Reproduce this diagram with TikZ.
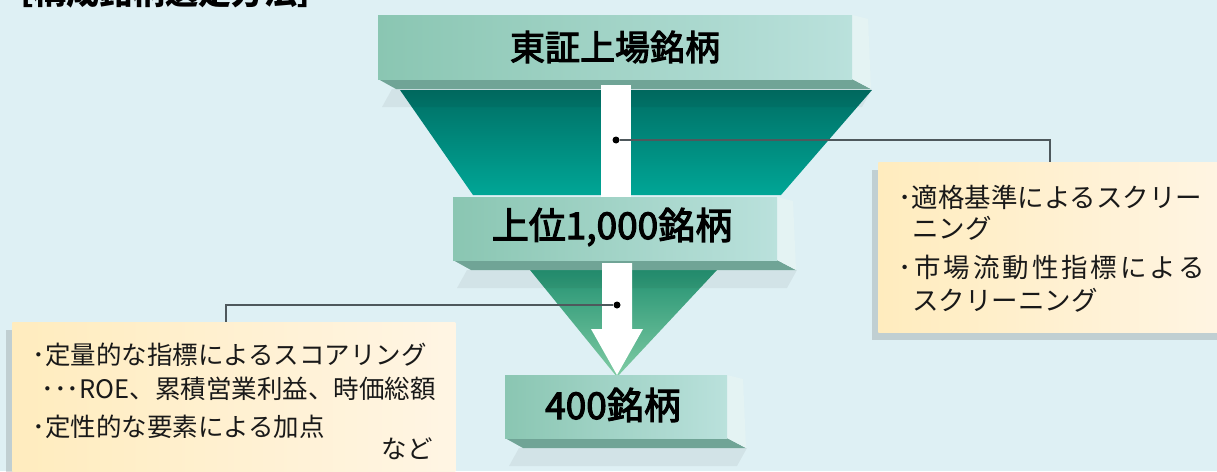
\documentclass[tikz,border=0pt]{standalone}
\usepackage{fontspec}
\setmainfont{Noto Sans CJK JP}
\newfontfamily\midfont[FakeBold=3]{Noto Sans CJK JP}
\usepackage{tikz}
\usetikzlibrary{positioning,shadows}

\definecolor{bgblue}{RGB}{222,240,244}
\definecolor{barL}{RGB}{138,198,178}
\definecolor{barR}{RGB}{186,225,220}
\definecolor{barbot}{RGB}{112,164,150}
\definecolor{barside}{RGB}{228,243,243}
\definecolor{tealtop}{RGB}{0,110,100}
\definecolor{tealbot}{RGB}{0,166,150}
\definecolor{greentop}{RGB}{36,146,114}
\definecolor{greenbot}{RGB}{128,204,164}
\definecolor{noteL}{RGB}{255,236,190}
\definecolor{noteR}{RGB}{255,245,228}
\definecolor{wire}{RGB}{78,88,92}

\begin{document}
\begin{tikzpicture}[x=1pt, y=-1pt, semithick]
\tikzstyle{bartext}=[inner sep=0, text=black, font=\midfont\fontsize{37}{37}\selectfont]
\tikzstyle{note}=[anchor=north west, inner sep=0, left color=noteL, right color=noteR,
  drop shadow={shadow xshift=-6pt, shadow yshift=-8pt, fill=black!70, opacity=.2}]
\tikzstyle{notetext}=[anchor=west, inner sep=0, text=black!90]
\tikzstyle{dot}=[circle, fill=black, inner sep=0, minimum size=7pt]
\tikzstyle{wire}=[draw=wire, line width=1.4pt]
\clip (0,0) rectangle (1217,471);
\fill[bgblue] (0,0) rectangle (1217,471);
% title, cut by the top edge
\node[anchor=base west, inner sep=0, font=\bfseries\fontsize{33}{33}\selectfont] (ttl) at (0,5) {［構成銘柄選定方法］};
% funnels
\shade[top color=tealtop, bottom color=tealbot] (400,90) -- (872,90) -- (781,195) -- (473,195) -- cycle;
\shade[top color=greentop, bottom color=greenbot] (530,270) -- (717,270) -- (617,377) -- cycle;
% slabs
\foreach \xa/\xb/\ya/\yb in {378/852/15/79, 453/777/197/260, 505/727/375/438}
{
  \fill[black, opacity=.05] (\xa+14,\yb+10) -- (\xb+20,\yb+10) -- (\xb+10,\yb+28) -- (\xa+4,\yb+28) -- cycle;
  \fill[barbot] (\xa,\yb) -- (\xb,\yb) -- ++(19,10) -- (\xa+18,\yb+10) -- cycle;
  \fill[barside] (\xb,\ya) -- ++(16,4) -- (\xb+19,\yb+10) -- (\xb,\yb) -- cycle;
  \shade[left color=barL, right color=barR] (\xa,\ya) rectangle (\xb,\yb);
}
% white arrows
\fill[white] (601,85) rectangle (631,197);
\fill[white] (602,263) -- (632,263) -- (632,329) -- (643,329) -- (617,375) -- (591,329) -- (602,329) -- cycle;
% labels
\node[bartext, font=\midfont\fontsize{35}{35}\selectfont] (tse) at (615,47) {東証上場銘柄};
\node[bartext] (top1000) at (612,227) {上位1,000銘柄};
\node[bartext] (final400) at (613,405) {400銘柄};
% notes
\node[note, minimum width=360pt, minimum height=170pt] (rnote) at (878,162) {};
\node[note, minimum width=443pt, minimum height=170pt] (lnote) at (12,322) {};
\coordinate (rtap) at (1050,162);
\coordinate (ltap) at (226,322);
\node[dot] (d1) at (616,140) {};
\node[dot] (d2) at (617,305) {};
\draw[wire] (d1) -| (rtap);
\draw[wire] (d2) -| (ltap);
\begin{scope}[every node/.append style={font=\fontsize{26.5}{30}\selectfont}]
\node[notetext] (r1) at (898,197) {･適格基準によるスクリー};
\node[notetext] (r2) at (912,228) {ニング};
\node[notetext] (r3) at (898,267) {\addfontfeatures{LetterSpace=11}･市場流動性指標による};
\node[notetext] (r4) at (912,300) {スクリーニング};
\end{scope}
\begin{scope}[every node/.append style={font=\fontsize{25.5}{30}\selectfont}]
\node[notetext] (l1) at (32,355) {･定量的な指標によるスコアリング};
\node[notetext] (l2) at (41,389) {･･･ROE、累積営業利益、時価総額};
\node[notetext] (l3) at (32,427) {･定性的な要素による加点};
\node[notetext, anchor=east] (l4) at (433,449) {など};
\end{scope}
\end{tikzpicture}
\end{document}
